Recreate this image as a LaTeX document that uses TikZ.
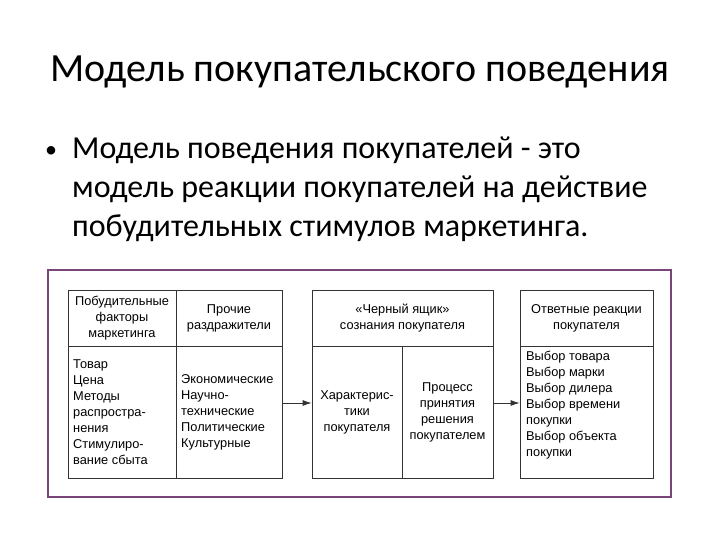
\documentclass[tikz,border=0pt]{standalone}
\usepackage{fontspec}
\setmainfont{Liberation Sans}
\newfontfamily\slidefont{Carlito}
\usetikzlibrary{calc,arrows.meta}
\definecolor{framepurple}{RGB}{120,70,120}
\tikzset{>={Latex[length=9pt,width=6pt]},
    cell/.style={draw=black!80, line width=0.8pt, inner sep=0pt, font=\fontsize{12.8}{16}\selectfont},
    headcell/.style={cell, align=center},
    listtext/.style={align=left, inner sep=0pt, font=\fontsize{12.8}{16}\selectfont},
    line/.style={draw=black!80, line width=0.8pt}}

\begin{document}
\begin{tikzpicture}[x=1pt, y=-1pt]
    \useasboundingbox (0,0) rectangle (720,540);
    % slide text
    \node[anchor=base west, inner sep=0pt, font=\slidefont\fontsize{40}{48}\selectfont] (title) at (50,82) {Модель покупательского поведения};
    \node[anchor=base west, inner sep=0pt, font=\slidefont\fontsize{24}{39}\selectfont] (bullet) at (45,158) {•};
    \node[anchor=north west, inner sep=0pt, align=left, font=\slidefont\fontsize{32}{39}\selectfont] (definition) at (72,137)
      {Модель поведения покупателей - это\\модель реакции покупателей на действие\\побудительных стимулов маркетинга.};
    % frame
    \draw[framepurple, line width=1.6pt] (48,270) rectangle (671,497);
    % headers
    \node[headcell, minimum width=108, minimum height=56] (stimhead) at (122,318)
      {Побудительные\\факторы\\маркетинга};
    \node[headcell, minimum width=106, minimum height=56] (irrhead) at (229,318)
      {Прочие\\раздражители};
    \node[headcell, minimum width=181, minimum height=56] (boxhead) at (402.5,318)
      {«Черный ящик»\\сознания покупателя};
    \node[headcell, minimum width=133, minimum height=56] (resphead) at (586.5,318)
      {Ответные реакции\\покупателя};
    % bodies
    \node[cell, minimum width=108, minimum height=132] (stim) at (122,412) {};
    \node[listtext, anchor=west] (stimtext) at (73,412)
      {Товар\\Цена\\Методы\\распростра-\\нения\\Стимулиро-\\вание сбыта};
    \node[cell, minimum width=106, minimum height=132] (irr) at (229,412) {};
    \node[listtext, anchor=west] (irrtext) at (181,412)
      {Экономические\\Научно-\\технические\\Политические\\Культурные};
    \node[cell, minimum width=90, minimum height=132, align=center] (char) at (357,412)
      {Характерис-\\тики\\покупателя};
    \node[cell, minimum width=91, minimum height=132, align=center] (proc) at (447.5,412)
      {Процесс\\принятия\\решения\\покупателем};
    \node[cell, minimum width=133, minimum height=132] (resp) at (586.5,412) {};
    \node[listtext, anchor=north west] (resptext) at (526,351)
      {Выбор товара\\Выбор марки\\Выбор дилера\\Выбор времени\\покупки\\Выбор объекта\\покупки};
    % arrows
    \draw[->, line] ([yshift=9pt]irr.east) -- ([yshift=9pt]char.west);
    \draw[->, line] ([yshift=9pt]proc.east) -- ([yshift=9pt]resp.west);
  \end{tikzpicture}
\end{document}
